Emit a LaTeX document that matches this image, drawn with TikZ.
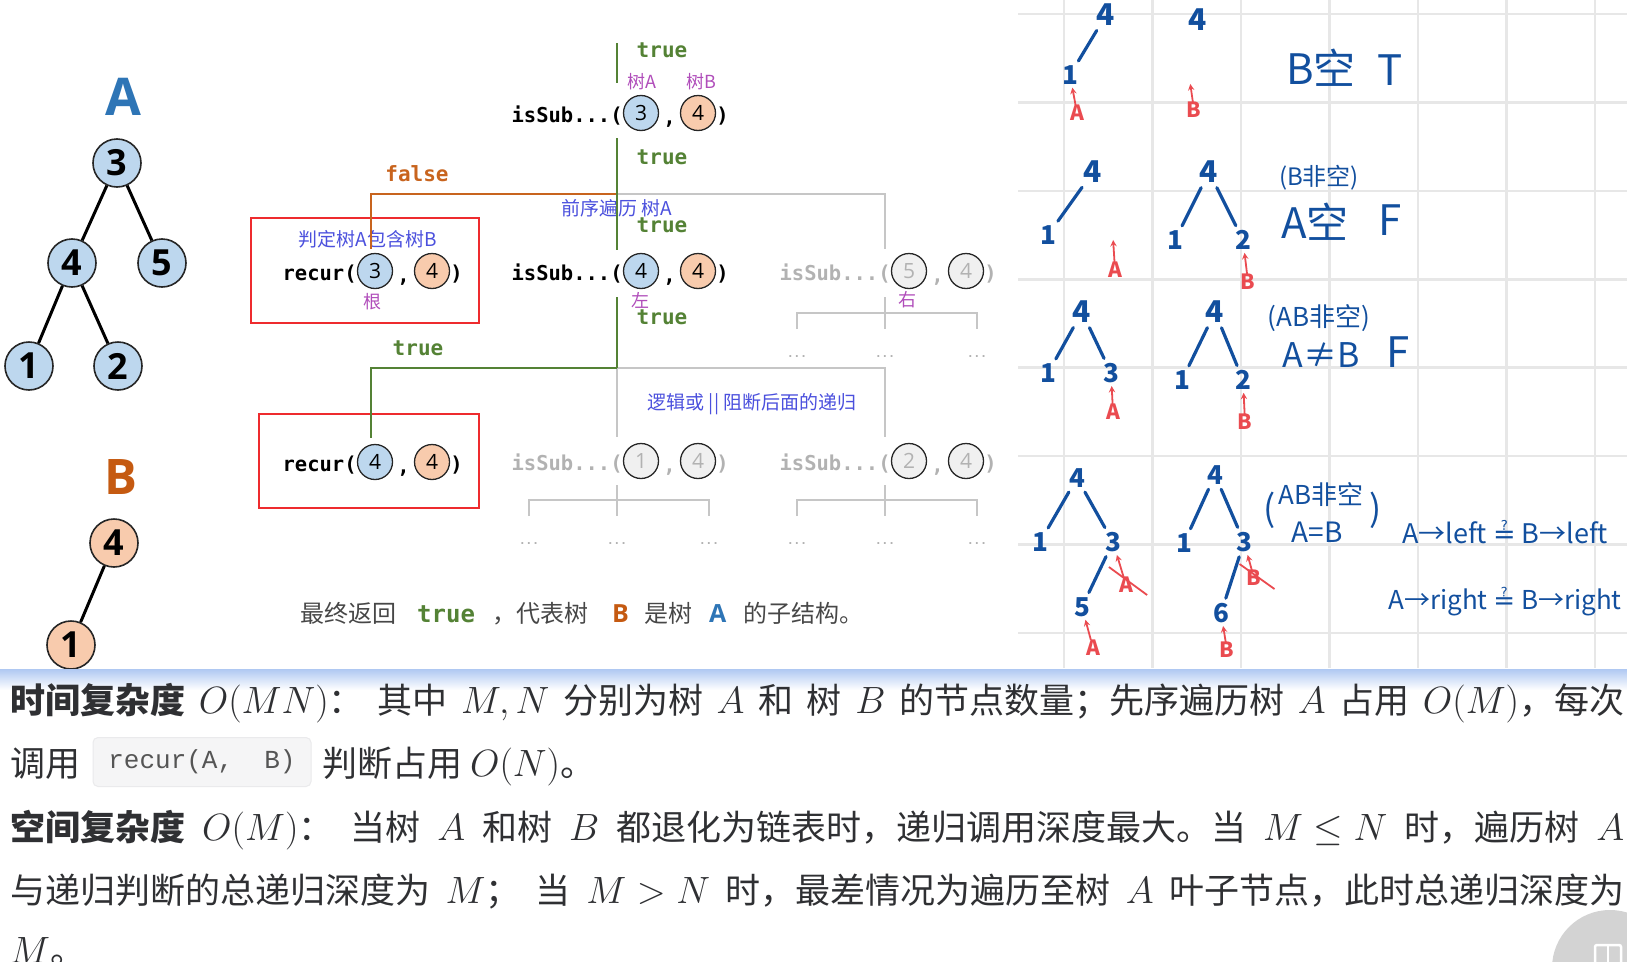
\RequirePackage{fix-cm}
\documentclass[tikz,border=0pt]{standalone}
\usepackage{fontspec}
\usepackage{amsmath,amssymb}
\usepackage{tikz}
\usetikzlibrary{arrows, positioning, calc}

\newfontfamily\cjk{Noto Sans CJK SC}
\newfontfamily\codef{DejaVu Sans Mono}
\newfontfamily\numf{Open Sans}
\newfontfamily\boxf{Liberation Mono}
\newfontfamily\symf{DejaVu Sans}
\newcommand{\setfs}[1]{\fontsize{#1}{#1}\selectfont}
\newcommand{\fixmu}{\thickmuskip=5mu\relax\medmuskip=4mu\relax}
\newcommand{\mth}[1]{{\setfs{38}$#1$}}

\definecolor{nodeblue}{HTML}{BDD7EE}
\definecolor{nodeorange}{HTML}{F8CBAD}
\definecolor{treeA}{HTML}{2E75B6}
\definecolor{treeB}{HTML}{C55A11}
\definecolor{okgreen}{HTML}{548235}
\definecolor{failorange}{HTML}{C8641E}
\definecolor{fadegray}{HTML}{B2B2B2}
\definecolor{linegray}{HTML}{C6C6C6}
\definecolor{notepurple}{HTML}{B04DBA}
\definecolor{noteblue}{HTML}{4B50DD}
\definecolor{boxred}{HTML}{EE2B2E}
\definecolor{gridgray}{HTML}{E7E7E7}
\definecolor{penblue}{HTML}{124F9E}
\definecolor{penred}{HTML}{EA4B50}
\definecolor{bodytext}{HTML}{2F3033}
\definecolor{captext}{HTML}{474747}
\definecolor{codebg}{HTML}{F5F5F6}
\definecolor{codeline}{HTML}{EAEAEC}
\definecolor{codetext}{HTML}{555555}
\definecolor{shadowblue}{HTML}{AFC8F2}
\definecolor{fabgray}{HTML}{D3D3D3}

\begin{document}
\begin{tikzpicture}[x=1pt, y=-1pt,
    tnode/.style={circle, draw=black!85, line width=1.6pt, minimum size=48pt,
                  inner sep=0pt, font=\numf\bfseries\setfs{36}},
    anode/.style={tnode, fill=nodeblue},
    bnode/.style={tnode, fill=nodeorange},
    treename/.style={font=\numf\bfseries\setfs{52}, inner sep=0pt},
    treeedge/.style={line width=3pt},
    arg/.style={circle, draw=black!85, line width=1.3pt, minimum size=35pt,
                inner sep=0pt, font=\numf\setfs{21}},
    argA/.style={arg, fill=nodeblue},
    argB/.style={arg, fill=nodeorange},
    argG/.style={arg, fill=black!6, text=fadegray},
    call/.style={font=\codef\bfseries\setfs{20.5}, inner sep=0pt, yshift=-3pt},
    callG/.style={call, text=fadegray},
    flag/.style={font=\codef\bfseries\setfs{21}, inner sep=0pt},
    note/.style={font=\cjk\setfs{18}, inner sep=0pt},
    tagp/.style={note, text=notepurple},
    hint/.style={note, text=noteblue, font=\cjk\setfs{19}},
    okwire/.style={okgreen, line width=2pt},
    failwire/.style={failorange, line width=2pt},
    graywire/.style={linegray, line width=2pt},
    ellip/.style={font=\codef\bfseries\setfs{11}, text=fadegray, inner sep=0pt},
    redbox/.style={draw=boxred, line width=2.5pt, inner sep=0pt},
    gridline/.style={gridgray, line width=2.6pt},
    hand/.style={text=penblue, font=\cjk\bfseries\setfs{26}, inner sep=1pt},
    handtop/.style={hand, font=\cjk\bfseries\setfs{30}},
    handtext/.style={hand, font=\cjk\setfs{26}},
    handbig/.style={hand, font=\cjk\setfs{42}},
    handline/.style={penblue, line width=3.2pt, line cap=round, shorten <=4pt, shorten >=4pt},
    penmark/.style={text=penred, font=\cjk\bfseries\setfs{21}, inner sep=0pt},
    penarrow/.style={->, >=stealth, penred, line width=1.8pt, shorten >=2pt},
    caption/.style={text=captext, font=\cjk\setfs{24}, inner sep=0pt, anchor=base west},
    body/.style={text=bodytext, font=\cjk\setfs{35}\fixmu, inner sep=0pt, anchor=base west},
    codebox/.style={rounded corners=5pt, fill=codebg, draw=codeline, line width=1pt,
                    minimum width=218pt, minimum height=49pt, text=codetext,
                    font=\boxf\setfs{26}}
]
\useasboundingbox (0,0) rectangle (1627,961);

\foreach \i in {0,...,6}
    \draw[gridline] ({1064+88.5*\i},0) -- ({1064+88.5*\i},668);
\foreach \j in {0,...,7}
    \draw[gridline] (1018,{14+88.4*\j}) -- (1627,{14+88.4*\j});

\node[treename, text=treeA] (nameA) at (123,97) {A};
\node[anode] (a3) at (117,163) {3};
\node[anode] (a4) at (72,263)  {4};
\node[anode] (a5) at (162,263) {5};
\node[anode] (a1) at (29,366)  {1};
\node[anode] (a2) at (118,366) {2};
\draw[treeedge] (a3) -- (a4);
\draw[treeedge] (a3) -- (a5);
\draw[treeedge] (a4) -- (a1);
\draw[treeedge] (a4) -- (a2);

\node[treename, text=treeB, font=\numf\bfseries\setfs{49}] (nameB) at (121,477) {B};
\node[bnode] (b4) at (114,543) {4};
\node[bnode] (b1) at (71,645)  {1};
\draw[treeedge] (b4) -- (b1);

\node[redbox, minimum width=228pt, minimum height=105pt] (box1) at (365,270.5) {};
\node[redbox, minimum width=220pt, minimum height=94pt]  (box2) at (369,461) {};

\node[argA] (r1a) at (641,113) {3};
\node[argB] (r1b) at (698,113) {4};
\node[call, anchor=east] (r1f) at (r1a.west) {isSub...(};
\node[call, anchor=base] (r1c) at ($(r1a)!0.5!(r1b)+(0,8)$) {,};
\node[call, anchor=west] (r1e) at (r1b.east) {)};

\node[argA] (r2a) at (641,271) {4};
\node[argB] (r2b) at (698,271) {4};
\node[call, anchor=east] (r2f) at (r2a.west) {isSub...(};
\node[call, anchor=base] (r2c) at ($(r2a)!0.5!(r2b)+(0,8)$) {,};
\node[call, anchor=west] (r2e) at (r2b.east) {)};

\node[argG] (g2a) at (909,271) {5};
\node[argG] (g2b) at (966,271) {4};
\node[callG, anchor=east] (g2f) at (g2a.west) {isSub...(};
\node[callG, anchor=base] (g2c) at ($(g2a)!0.5!(g2b)+(0,8)$) {,};
\node[callG, anchor=west] (g2e) at (g2b.east) {)};

\node[argG] (g3a) at (641,461) {1};
\node[argG] (g3b) at (698,461) {4};
\node[callG, anchor=east] (g3f) at (g3a.west) {isSub...(};
\node[callG, anchor=base] (g3c) at ($(g3a)!0.5!(g3b)+(0,8)$) {,};
\node[callG, anchor=west] (g3e) at (g3b.east) {)};

\node[argG] (g4a) at (909,461) {2};
\node[argG] (g4b) at (966,461) {4};
\node[callG, anchor=east] (g4f) at (g4a.west) {isSub...(};
\node[callG, anchor=base] (g4c) at ($(g4a)!0.5!(g4b)+(0,8)$) {,};
\node[callG, anchor=west] (g4e) at (g4b.east) {)};

\node[argA] (q1a) at (375,271) {3};
\node[argB] (q1b) at (432,271) {4};
\node[call, anchor=east] (q1f) at (q1a.west) {recur(};
\node[call, anchor=base] (q1c) at ($(q1a)!0.5!(q1b)+(0,8)$) {,};
\node[call, anchor=west] (q1e) at (q1b.east) {)};

\node[argA] (q2a) at (375,462) {4};
\node[argB] (q2b) at (432,462) {4};
\node[call, anchor=east] (q2f) at (q2a.west) {recur(};
\node[call, anchor=base] (q2c) at ($(q2a)!0.5!(q2b)+(0,8)$) {,};
\node[call, anchor=west] (q2e) at (q2b.east) {)};

\node[hint] (judge) at (368,239) {判定树A包含树B};
\node[tagp] (root) at (372,302) {根};
\node[tagp] (treeAtag) at (642,82) {树A};
\node[tagp] (treeBtag) at (701,82) {树B};
\node[tagp] (lefttag) at (640,300) {左};
\node[tagp] (righttag) at (907,300) {右};
\node[hint] (preorder) at (617,208) {前序遍历 树A};
\node[hint] (shortcut) at (752,404) {逻辑或 || 阻断后面的递归};

\node[flag, text=okgreen] (t0) at (662,50) {true};
\node[flag, text=okgreen] (t1) at (662,157) {true};
\node[flag, text=okgreen] (t2) at (662,225) {true};
\node[flag, text=okgreen] (t3) at (662,317) {true};
\node[flag, text=failorange] (f1) at (417,174) {false};
\node[flag, text=okgreen] (t4) at (418,348) {true};

\coordinate (in0) at (617,43);
\coordinate (j1) at (617,194);
\coordinate (j2) at (617,368);
\draw[failwire, shorten >=4pt] (j1) -| ([xshift=-4pt]q1a.north);
\draw[graywire, shorten >=4pt] (j1) -| ([xshift=-24pt]g2a.north);
\draw[graywire, shorten >=6pt] (j2) -- (j2 |- g3a.north);
\draw[graywire, shorten >=6pt] (j2) -| ([xshift=-24pt]g4a.north);
\draw[okwire, shorten >=12pt] (in0) -- (in0 |- r1a.north);
\draw[okwire, shorten <=7pt, shorten >=3pt] (j1 |- r1a.south) -- (j1 |- r2a.north);
\draw[okwire, shorten <=8pt] (j2 |- r2a.south) -- (j2);
\draw[okwire, shorten >=6pt] (j2) -| ([xshift=-4pt]q2a.north);

\foreach \n/\cx/\cy/\sy in {a/885/313/297, b/617/500/485, c/885/500/485} {
    \coordinate (stem\n) at (\cx,\sy);
    \coordinate (bar\n) at (\cx,\cy);
    \node[ellip] (dl\n) at (\cx-88,\cy+44) {...};
    \node[ellip] (dm\n) at (\cx,\cy+44) {...};
    \node[ellip] (dr\n) at (\cx+92,\cy+44) {...};
    \draw[graywire] ([yshift=28pt]dl\n.center) |- (bar\n) -| ([yshift=28pt]dr\n.center);
    \draw[graywire] (stem\n) -- ([yshift=28pt]dm\n.center);
}

\node[caption] (c1) at (300,622) {最终返回};
\node[caption, font=\codef\bfseries\setfs{24}, text=okgreen] (c2) at (417,622) {true};
\node[caption] (c3) at (492,622) {，代表树};
\node[caption, font=\numf\bfseries\setfs{25}, text=treeB] (c4) at (612,622) {B};
\node[caption] (c5) at (644,622) {是树};
\node[caption, font=\numf\bfseries\setfs{25}, text=treeA] (c6) at (709,622) {A};
\node[caption] (c7) at (743,622) {的子结构。};

\node[handtop] (p1top) at (1106,15) {4};
\node[hand] (p1l) at (1070,75) {1};
\draw[handline] (p1top) -- (p1l);
\node[penmark] (p1A) at (1077,113) {A};
\draw[penarrow] (p1A) -- (p1l);
\node[handtop] (q1top) at (1198,20) {4};
\node[penmark] (q1B) at (1194,110) {B};
\coordinate (q1null) at (1190,82);
\draw[penarrow] (q1B) -- (q1null);
\node[handbig] (r1txt) at (1321,68) {B空};
\node[handbig] (r1res) at (1390,70) {T};

\node[handtop] (p2top) at (1093,172) {4};
\node[hand] (p2l) at (1048,235) {1};
\draw[handline] (p2top) -- (p2l);
\node[penmark] (p2A) at (1115,270) {A};
\coordinate (p2null) at (1113,238);
\draw[penarrow] (p2A) -- (p2null);
\node[handtop] (q2top) at (1209,172) {4};
\node[hand] (q2l) at (1175,240) {1};
\node[hand] (q2r) at (1243,240) {2};
\draw[handline] (q2top) -- (q2l);
\draw[handline] (q2top) -- (q2r);
\node[penmark] (q2B) at (1248,282) {B};
\draw[penarrow] (q2B) -- (q2r);
\node[handtext, font=\cjk\setfs{24}] (r2pre) at (1319,178) {(B非空)};
\node[handbig] (r2txt) at (1315,222) {A空};
\node[handbig] (r2res) at (1390,220) {F};

\node[handtop] (p3top) at (1082,312) {4};
\node[hand] (p3l) at (1048,373) {1};
\node[hand] (p3r) at (1111,373) {3};
\draw[handline] (p3top) -- (p3l);
\draw[handline] (p3top) -- (p3r);
\node[penmark] (p3A) at (1113,412) {A};
\draw[penarrow] (p3A) -- (p3r);
\node[handtop] (q3top) at (1215,312) {4};
\node[hand] (q3l) at (1182,380) {1};
\node[hand] (q3r) at (1243,380) {2};
\draw[handline] (q3top) -- (q3l);
\draw[handline] (q3top) -- (q3r);
\node[penmark] (q3B) at (1245,422) {B};
\draw[penarrow] (q3B) -- (q3r);
\node[handtext] (r3pre) at (1319,318) {(AB非空)};
\node[handtext, font=\cjk\setfs{34}] (r3txt) at (1321,355) {A≠B};
\node[handbig] (r3res) at (1398,352) {F};

\node[hand] (p4top) at (1077,478) {4};
\node[hand] (p4l) at (1040,542) {1};
\node[hand] (p4r) at (1113,542) {3};
\node[hand] (p4b) at (1082,607) {5};
\draw[handline] (p4top) -- (p4l);
\draw[handline] (p4top) -- (p4r);
\draw[handline] (p4r) -- (p4b);
\node[penmark] (p4x) at (1126,585) {A};
\draw[penarrow] (p4x) -- (p4r);
\draw[penred, line width=1.8pt] ([shift={(-10pt,10pt)}]p4x.north west) -- ([shift={(14pt,-2pt)}]p4x.south east);
\node[penmark] (p4A) at (1093,648) {A};
\draw[penarrow] (p4A) -- (p4b);
\node[hand] (q4top) at (1215,475) {4};
\node[hand] (q4l) at (1184,543) {1};
\node[hand] (q4r) at (1244,542) {3};
\node[hand] (q4b) at (1221,613) {6};
\draw[handline] (q4top) -- (q4l);
\draw[handline] (q4top) -- (q4r);
\draw[handline] (q4r) -- (q4b);
\node[penmark] (q4x) at (1254,578) {B};
\draw[penarrow] (q4x) -- (q4r);
\draw[penred, line width=1.8pt] ([shift={(-7pt,6pt)}]q4x.north west) -- ([shift={(13pt,-3pt)}]q4x.south east);
\node[penmark] (q4B) at (1227,650) {B};
\draw[penarrow] (q4B) -- (q4b);
\node[handtext, font=\cjk\setfs{36}] (r4lp) at (1270,510) {(};
\node[handtext] (r4pre) at (1321,495) {AB非空};
\node[handtext, font=\cjk\setfs{28}] (r4eq) at (1317,532) {A=B};
\node[handtext, font=\cjk\setfs{36}] (r4rp) at (1376,510) {)};
\node[handtext, font=\cjk\setfs{27}] (r4left) at (1505,532) {A→left {\symf ≟} B→left};
\node[handtext, font=\cjk\setfs{26}] (r4right) at (1505,602) {A→right {\symf ≟} B→right};

\fill[white] (0,669) rectangle (1627,961);
\shade[top color=shadowblue, bottom color=white] (0,669) rectangle (1627,690);

\node[body] (l1) at (10,713) {\makebox[1614pt][s]{{\bfseries 时间复杂度} \mth{O(MN)}： 其中 \mth{M,N} 分别为树 \mth{A} 和 树 \mth{B} 的节点数量；先序遍历树 \mth{A} 占用 \mth{O(M)}，每次}};
\node[body] (l2a) at (10,776) {调用};
\node[codebox] (l2b) at (202,762) {recur(A,\ \ B)};
\node[body] (l2c) at (322,776) {判断占用 \mth{O(N)}。};
\node[body] (l3) at (10,840) {\makebox[1614pt][s]{{\bfseries 空间复杂度} \mth{O(M)}： 当树 \mth{A} 和树 \mth{B} 都退化为链表时，递归调用深度最大。当 \mth{M \le N} 时，遍历树 \mth{A}}};
\node[body] (l4) at (10,903) {\makebox[1614pt][s]{与递归判断的总递归深度为 \mth{M}； 当 \mth{M > N} 时，最差情况为遍历至树 \mth{A} 叶子节点，此时总递归深度为}};
\node[body] (l5) at (10,963) {\mth{M}。};

\node[circle, fill=fabgray, minimum size=116pt, inner sep=0pt] (fab) at (1610,968) {};
\node[draw=white, line width=2.5pt, rounded corners=2pt, minimum width=26pt,
      minimum height=20pt, inner sep=0pt] (fabicon) at (1608,955) {};
\draw[white, line width=2.5pt] (fabicon.north) -- (fabicon.south);
\end{tikzpicture}
\end{document}
